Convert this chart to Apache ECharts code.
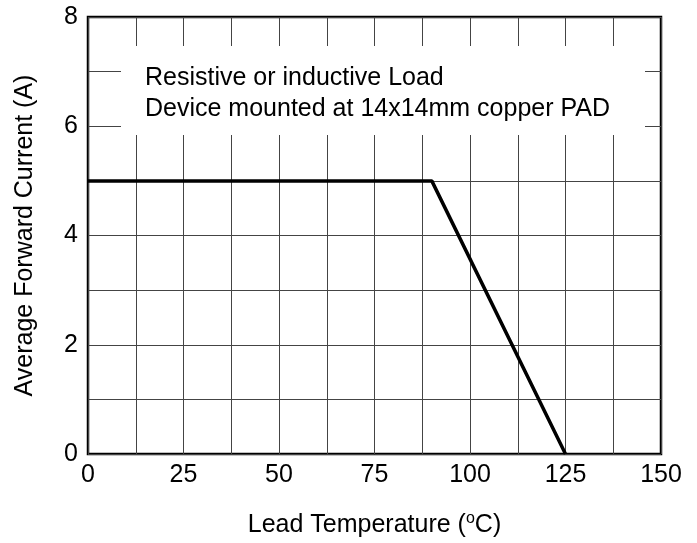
<!DOCTYPE html>
<html>
<head>
<meta charset="utf-8">
<script src="https://cdn.jsdelivr.net/npm/echarts@6/dist/echarts.min.js"></script>
<style>
  html, body { margin: 0; padding: 0; background: #fff; }
  #main { width: 697px; height: 543px; }
</style>
</head>
<body>
<div id="main"></div>
<script>
// derating curve: lead temperature (C) vs average forward current (A)
var temps = [0, 90, 125];
var current = [5, 5, 0];
var noteLines = ['Resistive or inductive Load', 'Device mounted at 14x14mm copper PAD'];

var font = 'Liberation Sans, Arial, sans-serif';
var chart = echarts.init(document.getElementById('main'));

chart.setOption({
    animation: false,
    grid: {
        left: 88, right: 36, top: 17, bottom: 89,
        show: true,
        borderColor: '#000',
        borderWidth: 2.5
    },
    xAxis: {
        type: 'value',
        min: 0, max: 150, interval: 25,
        name: 'Lead Temperature ({sup|o}C)',
        nameLocation: 'middle',
        nameGap: 57,
        nameTextStyle: {
            fontFamily: font, fontSize: 25, color: '#000',
            rich: { sup: { fontFamily: font, fontSize: 16, color: '#000', verticalAlign: 'top', padding: [0, 0, 12, 0] } }
        },
        axisLine: { show: false },
        axisTick: { show: false },
        axisLabel: { fontFamily: font, fontSize: 25, color: '#000', margin: 9 },
        splitLine: { show: true, lineStyle: { color: '#444', width: 1 } },
        minorSplitLine: { show: true, lineStyle: { color: '#444', width: 1 } },
        minorTick: { show: false, splitNumber: 2 }
    },
    yAxis: {
        type: 'value',
        min: 0, max: 8, interval: 2,
        name: 'Average Forward Current (A)',
        nameLocation: 'middle',
        nameGap: 50,
        nameTextStyle: { fontFamily: font, fontSize: 25, color: '#000' },
        axisLine: { show: false },
        axisTick: { show: false },
        axisLabel: { fontFamily: font, fontSize: 25, color: '#000', margin: 10 },
        splitLine: { show: true, lineStyle: { color: '#444', width: 1 } },
        minorSplitLine: { show: true, lineStyle: { color: '#444', width: 1 } },
        minorTick: { show: false, splitNumber: 2 }
    },
    graphic: [{
        type: 'rect',
        left: 121, top: 46,
        z: 100,
        shape: { width: 524, height: 89 },
        style: { fill: '#fff' }
    }, {
        type: 'text',
        left: 145, top: 63,
        z: 101,
        style: {
            text: noteLines.join('\n'),
            fontFamily: font, fontSize: 25, lineHeight: 31, fill: '#000'
        }
    }],
    series: [{
        type: 'line',
        data: temps.map(function (t, i) { return [t, current[i]]; }),
        showSymbol: false,
        lineStyle: { color: '#000', width: 3.5 },
        z: 10
    }]
});
</script>
</body>
</html>
